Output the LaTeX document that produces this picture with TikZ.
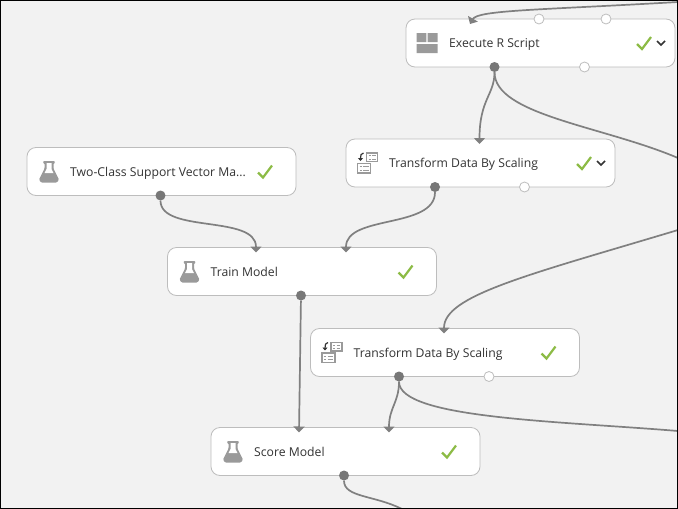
\documentclass[tikz,border=0pt]{standalone}
\usepackage{fontspec}
\setmainfont{Open Sans}
\usetikzlibrary{positioning, arrows.meta, calc}
\definecolor{bgCanvas}{HTML}{F2F2F2}
\definecolor{borderModule}{HTML}{BDBDBD}
\definecolor{iconGray}{HTML}{9A9A9A}
\definecolor{linkColor}{HTML}{808080}
\definecolor{portDark}{HTML}{777777}
\definecolor{tickGreen}{HTML}{8CBB45}
\definecolor{textMain}{HTML}{333333}
\tikzset{
  module/.style={draw=borderModule, fill=white, rounded corners=9pt, outer sep=0pt,
    minimum width=269pt, minimum height=48pt, line width=0.8pt, inner sep=0pt},
  modlabel/.style={anchor=base west, font=\fontsize{12.2}{14}\selectfont, text=textMain, inner sep=0pt},
  outport/.style={circle, fill=portDark, minimum size=10pt, inner sep=0pt},
  freeport/.style={circle, draw=borderModule, fill=white, minimum size=10pt, inner sep=0pt, line width=0.8pt},
  link/.style={line width=1.7pt, color=linkColor},
  inlink/.style={link, -{Triangle[length=6pt, width=11pt]}},
  flask/.pic={
    \fill[iconGray, rounded corners=1pt] (-6,-10.5) -- (6,-10.5) -- (6,-8.5) -- (4.5,-8.5) -- (4.5,-3)
      -- (10,8) -- (8,11) -- (-8,11) -- (-10,8) -- (-4.5,-3) -- (-4.5,-8.5) -- (-6,-8.5) -- cycle;
    \fill[white] (-2.5,-8.5) -- (2.5,-8.5) -- (2.5,-2.5) -- (4.5,1.5) -- (-4.5,1.5) -- (-2.5,-2.5) -- cycle;
  },
  gridicon/.pic={
    \fill[iconGray] (-10.5,-10) rectangle (-0.7,-1) (0.7,-10) rectangle (10.5,-1) (-10.5,1) rectangle (10.5,10);
  },
  scaleicon/.pic={
    \draw[iconGray, line width=1.2pt, fill=white] (-0.5,-10) rectangle (10.5,-1.5) (-9.5,0.5) rectangle (3.5,10);
    \draw[iconGray, line width=0.8pt] (1.5,-7.5) -- (3.5,-7.5) (1.5,-4) -- (3.5,-4) (5,-7.5) -- (8.5,-7.5) (5,-4) -- (8.5,-4)
      (-7.5,3.5) -- (-5.5,3.5) (-7.5,7) -- (-5.5,7) (-4,3.5) -- (1.5,3.5) (-4,7) -- (1.5,7);
    \draw[textMain, line width=1.2pt, -{Triangle[length=3pt, width=5pt]}] (-3.5,-10) .. controls (-6,-9.5) and (-6.5,-8) .. (-6.5,-2);
  },
  tick/.pic={
    \draw[tickGreen, line width=2.2pt] (-7,1) -- (-2,6) -- (7,-6);
  },
  chevron/.pic={
    \draw[textMain, line width=1.6pt] (-4,-2) -- (0,2) -- (4,-2);
  },
}
\begin{document}
\begin{tikzpicture}[x=1pt, y=-1pt]

  % === Canvas ===
  \fill[bgCanvas] (0,0) rectangle (678,509);
  \useasboundingbox (0,0) rectangle (678,509);
  \coordinate (topEnd) at (678,2);
  \coordinate (rightA) at (678,158);
  \coordinate (rightB) at (678,230);
  \coordinate (rightC) at (678,431);
  \coordinate (bottomEnd) at (402,509);

  % === Modules ===
  \node[module] (exec) at (540.5,43) {};
  \node[module, below=72pt of exec, xshift=-60pt] (scale1) {};
  \node[module, left=50pt of scale1, yshift=-8.5pt] (svm) {};
  \node[module, below=52pt of svm, xshift=140.5pt] (train) {};
  \node[module, below=33pt of train, xshift=143pt] (scale2) {};
  \node[module, below=51pt of scale2, xshift=-99.5pt] (score) {};

  % Labels
  \node[modlabel] at ([xshift=43pt, yshift=-4.5pt]exec.west) {Execute R Script};
  \node[modlabel] at ([xshift=43pt, yshift=-4.5pt]scale1.west) {Transform Data By Scaling};
  \node[modlabel] at ([xshift=43pt, yshift=-4.5pt]svm.west) {Two-Class Support Vector Ma...};
  \node[modlabel] at ([xshift=43pt, yshift=-4.5pt]train.west) {Train Model};
  \node[modlabel] at ([xshift=43pt, yshift=-4.5pt]scale2.west) {Transform Data By Scaling};
  \node[modlabel] at ([xshift=43pt, yshift=-4.5pt]score.west) {Score Model};

  % Icons
  \pic at ([xshift=21pt]exec.west) {gridicon};
  \pic at ([xshift=21pt]scale1.west) {scaleicon};
  \pic at ([xshift=22pt]svm.west) {flask};
  \pic at ([xshift=22pt]train.west) {flask};
  \pic at ([xshift=21pt]scale2.west) {scaleicon};
  \pic at ([xshift=22pt]score.west) {flask};

  % Status marks
  \foreach \m/\d in {exec/31, scale1/31, svm/31, train/31, scale2/31, score/31} {
    \pic at ([xshift=-\d pt]\m.east) {tick};
  }
  \pic at ([xshift=-14pt]exec.east) {chevron};
  \pic at ([xshift=-14pt]scale1.east) {chevron};

  % === Ports ===
  \node[freeport] (execA) at ([xshift=-1.5pt]exec.north) {};
  \node[freeport] (execB) at ([xshift=65.5pt]exec.north) {};
  \node[freeport] (execC) at ([xshift=44pt]exec.south) {};
  \node[freeport] (scaleOne) at ([xshift=44pt]scale1.south) {};
  \node[freeport] (scaleTwo) at ([xshift=44pt]scale2.south) {};
  \node[outport] (execOut) at ([xshift=-46pt]exec.south) {};
  \node[outport] (scaleOneOut) at ([xshift=-45.5pt]scale1.south) {};
  \node[outport] (svmOut) at ([xshift=-1pt]svm.south) {};
  \node[outport] (trainOut) at ([xshift=-1pt]train.south) {};
  \node[outport] (scaleTwoOut) at ([xshift=-46pt]scale2.south) {};
  \node[outport] (scoreOut) at ([xshift=-1.5pt]score.south) {};

  \coordinate (execIn) at ([xshift=-70.5pt, yshift=-5pt]exec.north);
  \coordinate (scaleOneIn) at ([yshift=-5pt, xshift=-1pt]scale1.north);
  \coordinate (trainInA) at ([xshift=-46pt, yshift=-5pt]train.north);
  \coordinate (trainInB) at ([xshift=44pt, yshift=-5pt]train.north);
  \coordinate (scaleTwoIn) at ([xshift=-1pt, yshift=-5pt]scale2.north);
  \coordinate (scoreInA) at ([xshift=-46.5pt, yshift=-5pt]score.north);
  \coordinate (scoreInB) at ([xshift=43.5pt, yshift=-5pt]score.north);

  % === Connectors ===
  \draw[inlink] (topEnd) .. controls +(-138,8) and +(8,-14) .. (execIn);
  \draw[inlink] (execOut) .. controls +(0,28) and +(0,-45) .. (scaleOneIn);
  \draw[link] (execOut) .. controls +(0,48) and +(-75,-32) .. (rightA);
  \draw[inlink] (scaleOneOut) .. controls +(0,42) and +(0,-38) .. (trainInB);
  \draw[inlink] (svmOut) .. controls +(0,38) and +(0,-38) .. (trainInA);
  \draw[inlink] (trainOut) -- (scoreInA);
  \draw[inlink] (rightB) .. controls +(-150,45) and +(0,-38) .. (scaleTwoIn);
  \draw[inlink] (scaleTwoOut) .. controls +(0,26) and +(0,-25) .. (scoreInB);
  \draw[link] (scaleTwoOut) .. controls +(0,42) and +(-120,-10) .. (rightC);
  \draw[link] (scoreOut) .. controls +(0,22) and +(-28,-14) .. (bottomEnd);

  % Frame
  \draw[black, line width=1.2pt] (0.6,0.6) rectangle (677.4,508.4);

\end{tikzpicture}
\end{document}
